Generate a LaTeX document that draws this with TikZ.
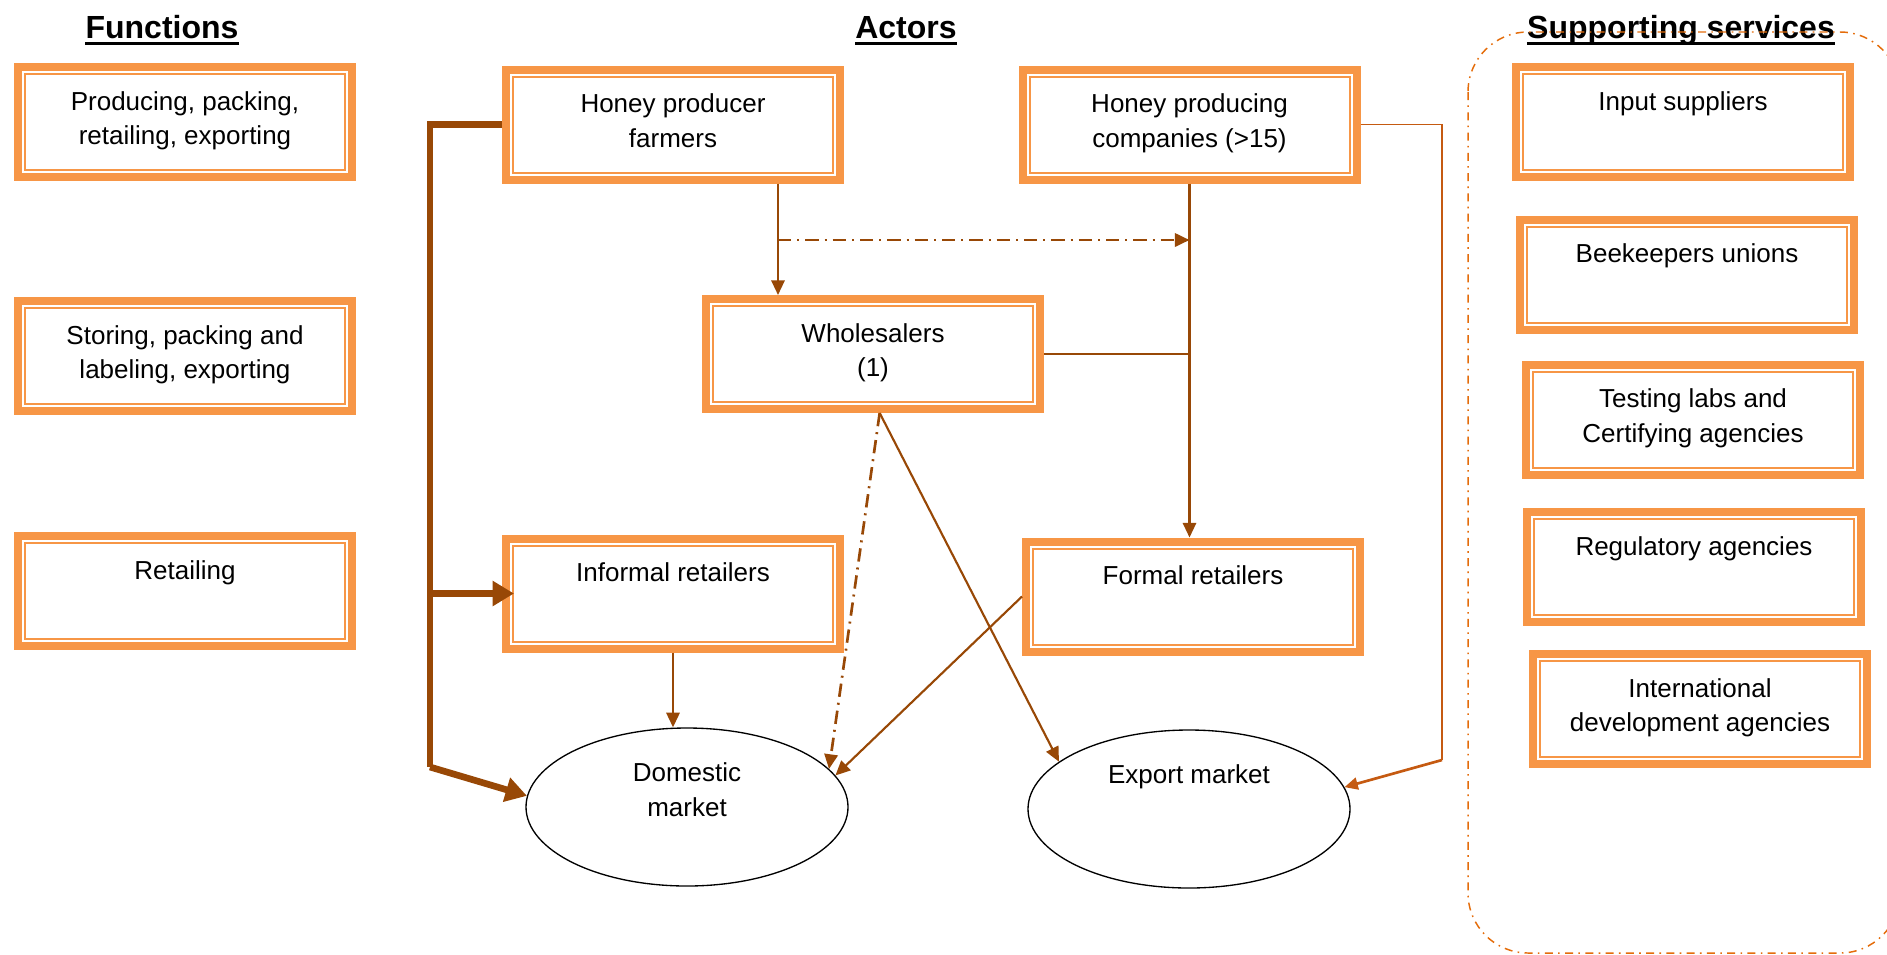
\documentclass[tikz,border=0pt]{standalone}
\usepackage{fontspec}
\setmainfont{Liberation Sans}
\usetikzlibrary{arrows.meta,shapes.geometric,calc}

\definecolor{boxorange}{RGB}{247,150,70}
\definecolor{flowbrown}{RGB}{152,72,6}
\definecolor{linkbrown}{RGB}{197,90,17}
\definecolor{frameorange}{RGB}{228,108,10}

\newcommand{\boxfont}{\fontsize{19.5}{26}\selectfont}
\newcommand{\titlefont}{\fontsize{24}{28}\selectfont\bfseries}

\tikzset{
  chainbox/.style={preaction={draw=boxorange, line width=16.5pt}, preaction={draw=white, line width=4.5pt},
    fill=white, draw=boxorange, line width=1.5pt, minimum width=240pt, minimum height=72pt,
    inner sep=2pt, outer sep=8.25pt, align=center, font=\boxfont,
    execute at end node={\rule[-6pt]{0pt}{0pt}}},
  market/.style={ellipse, draw=black, line width=1pt, minimum width=241.5pt, minimum height=118.5pt,
    inner sep=0pt, outer sep=0.5pt, align=center, font=\boxfont},
  title/.style={font=\titlefont, inner sep=0pt, anchor=base},
  uline/.style={draw=black, line width=2.2pt},
  flow/.style={draw=flowbrown, line width=1.6pt, -{Triangle[length=11pt,width=10pt]}},
  flowdd/.style={flow, line width=2pt, dash pattern=on 10pt off 4.5pt on 1.5pt off 4.5pt},
  link/.style={draw=flowbrown, line width=1.6pt},
  mainline/.style={draw=flowbrown, line width=5pt},
  mainflow/.style={mainline, -{Triangle[length=16pt,width=18pt]}},
  sidelink/.style={draw=linkbrown, line width=1pt},
  sideflow/.style={draw=linkbrown, line width=2pt, -{Triangle[length=10pt,width=9pt]}},
  sframe/.style={draw=frameorange, line width=1.1pt, dash pattern=on 6pt off 4pt on 1.2pt off 4pt}
}

\begin{document}
\begin{tikzpicture}[x=0.75pt,y=0.75pt,yscale=-1,xscale=1]
        \useasboundingbox (0,0) rectangle (1887,954);

        % Titles
        \node[title] (ttlfun) at (162,38) {Functions};
        \node[title] (ttlact) at (906,38) {Actors};
        \node[title] (ttlsup) at (1681,38) {Supporting services};
        \draw[uline] ($(ttlfun.base west)+(0,5.5)$) -- ($(ttlfun.base east)+(0,5.5)$);
        \draw[uline] ($(ttlact.base west)+(0,5.5)$) -- ($(ttlact.base east)+(0,5.5)$);
        \draw[uline] ($(ttlsup.base west)+(0,5.5)$) -- ($(ttlsup.base east)+(0,5.5)$);

        % Shape: Functions
        \node[chainbox] (fun1) at (185,122) {Producing, packing,\\retailing, exporting};
        \node[chainbox] (fun2) at (185,356) {Storing, packing and\\labeling, exporting};
        \node[chainbox] (fun3) at (185,591) {Retailing\\~};

        % Shape: Actors
        \node[chainbox] (hpf) at (673,124.5) {Honey producer\\farmers};
        \node[chainbox] (hpc) at (1189.5,124.5) {Honey producing\\companies (>15)};
        \node[chainbox] (wh) at (873,354) {Wholesalers\\(1)};
        \node[chainbox] (ir) at (673,593.5) {Informal retailers\\~};
        \node[chainbox] (fr) at (1193,596.5) {Formal retailers\\~};
        \node[market] (dommkt) at (687,807) {Domestic\\market\\~};
        \node[market] (expmkt) at (1189,809) {Export market\\~\\~};

        % Shape: Supporting services
        \node[chainbox] (inp) at (1683,122) {Input suppliers\\~};
        \node[chainbox] (bee) at (1687,274.5) {Beekeepers unions\\~};
        \node[chainbox] (lab) at (1693,419.5) {Testing labs and\\Certifying agencies};
        \node[chainbox] (reg) at (1694,567) {Regulatory agencies\\~};
        \node[chainbox] (ida) at (1700,709) {International\\development agencies};
        \draw[sframe, rounded corners=45pt] (1468,32) rectangle (1900,953);

        % Connector: farmers trunk
        \coordinate (trunk) at (430,767);
        \draw[mainline] (hpf.west) -| (trunk);
        \draw[mainflow] (ir.west -| trunk) -- ([xshift=9pt]ir.west);
        \draw[mainflow] (trunk) -- (dommkt.176);

        % Connector: farmers and companies
        \coordinate (fork) at (778,240);
        \draw[flow] (hpf.south -| fork) -- (wh.north -| fork);
        \draw[flowdd] (fork) -- (fork -| hpc.south);
        \draw[flow] (hpc.south) -- (hpc.south |- fr.north);
        \draw[link] (wh.east) -- (wh.east -| hpc.south);

        % Connector: to markets
        \draw[flowdd] ([xshift=5pt]wh.south) -- (dommkt.15);
        \draw[flow] ([xshift=5pt]wh.south) -- (expmkt.160);
        \draw[flow] (ir.south) -- (ir.south |- dommkt.north);
        \draw[flow] (fr.west) -- (dommkt.12);
        \coordinate (rside) at (1442,760);
        \draw[sidelink] (hpc.east) -| (rside);
        \draw[sideflow] (rside) -- (expmkt.8);

\end{tikzpicture}
\end{document}
